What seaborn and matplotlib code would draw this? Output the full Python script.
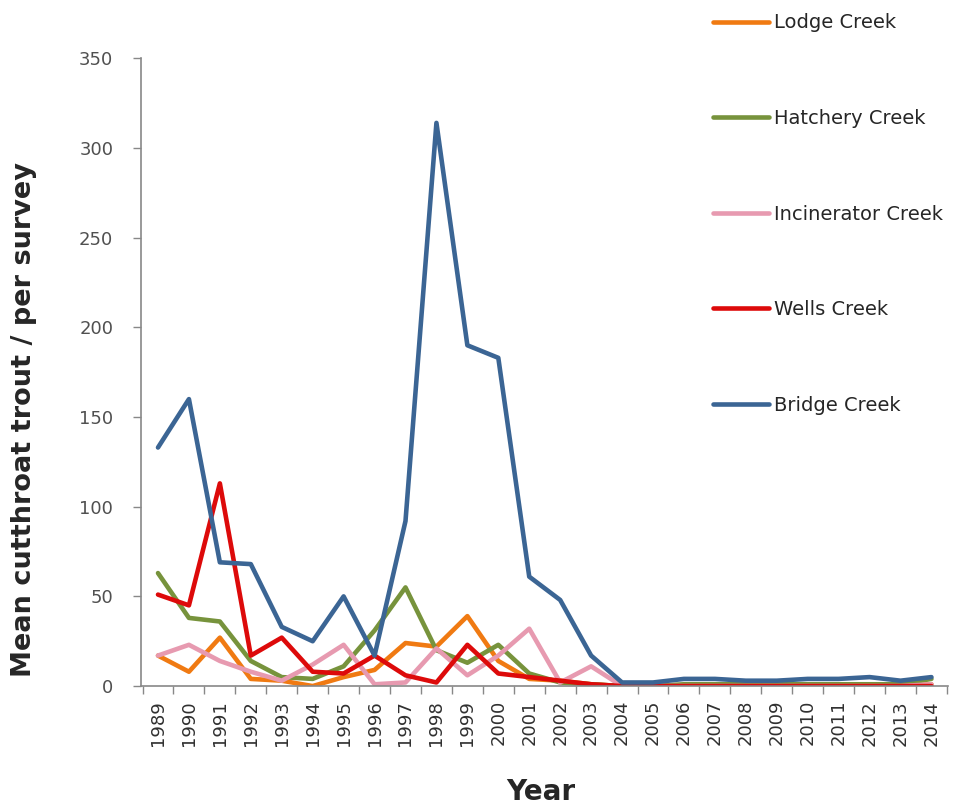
import matplotlib
matplotlib.use("Agg")
import matplotlib.pyplot as plt
import seaborn as sns
import pandas as pd
import numpy as np

years = list(range(1989, 2015))
lodge = [17, 8, 27, 4, 3, 0, 5, 9, 24, 22, 39, 14, 4, 3, 1, 0, 0, 0, 0, 0, 0, 0, 0, 0, 0, 1]
hatchery = [63, 38, 36, 14, 5, 4, 11, 31, 55, 20, 13, 23, 7, 2, 1, 0, 0, 1, 1, 1, 1, 1, 1, 1, 1, 4]
incinerator = [17, 23, 14, 8, 3, 12, 23, 1, 2, 21, 6, 17, 32, 2, 11, 0, 0, 0, 0, 0, 0, 0, 0, 0, 0, 1]
wells = [51, 45, 113, 17, 27, 8, 7, 17, 6, 2, 23, 7, 5, 3, 1, 0, 0, 0, 0, 0, 0, 0, 0, 0, 0, 0]
bridge = [133, 160, 69, 68, 33, 25, 50, 17, 92, 314, 190, 183, 61, 48, 17, 2, 2, 4, 4, 3, 3, 4, 4, 5, 3, 5]

series_names = ["Lodge Creek", "Hatchery Creek", "Incinerator Creek", "Wells Creek", "Bridge Creek"]
series_values = [lodge, hatchery, incinerator, wells, bridge]
colors = ["#F07A12", "#77933C", "#E79AB0", "#DD0A0A", "#3B6594"]

rows = []
for name, vals in zip(series_names, series_values):
    for y, v in zip(years, vals):
        rows.append({"Year": y, "Value": v, "Creek": name})
df = pd.DataFrame(rows)

sns.set_style("white")
plt.rcParams["font.family"] = ["DejaVu Sans"]

fig = plt.figure(figsize=(9.59, 8.10), dpi=100)
ax = fig.add_axes([0.147, 0.153, 0.842, 0.775])

sns.lineplot(data=df, x="Year", y="Value", hue="Creek", hue_order=series_names,
             palette=dict(zip(series_names, colors)), linewidth=3.3, ax=ax,
             legend=True)

ax.set_xlim(years[0] - 0.55, years[-1] + 0.55)
ax.set_ylim(0, 350)
ax.set_yticks(np.arange(0, 351, 50))
ax.set_xticks([y - 0.5 for y in years] + [years[-1] + 0.5])
ax.set_xticklabels([])
ax.set_xticks(years, minor=True)
ax.set_xticklabels([str(y) for y in years], minor=True, rotation=90, fontsize=13, color="#303030")
ax.tick_params(axis="x", which="major", length=6, width=1, color="#888888", direction="out", bottom=True)
ax.tick_params(axis="x", which="minor", length=0, pad=10)
ax.tick_params(axis="y", length=6, width=1, color="#888888", direction="out", left=True,
               labelsize=13, labelcolor="#505050", pad=14)

for s in ["top", "right"]:
    ax.spines[s].set_visible(False)
for s in ["left", "bottom"]:
    ax.spines[s].set_color("#888888")
    ax.spines[s].set_linewidth(1.2)

ax.set_ylabel("Mean cutthroat trout / per survey", fontsize=19.5, fontweight="bold")
ax.yaxis.set_label_coords(-0.129, 0.424)
ax.set_xlabel("Year", fontsize=20, fontweight="bold")
ax.xaxis.set_label_coords(0.495, -0.146)

handles, labels = ax.get_legend_handles_labels()
leg = ax.legend(handles, labels, loc="upper left", bbox_to_anchor=(0.725, 1.005),
                bbox_transform=fig.transFigure, frameon=False, fontsize=14,
                labelspacing=3.94, handlelength=2.9, handletextpad=0.25)
for line in leg.get_lines():
    line.set_linewidth(3.3)

fig.savefig("out.png", dpi=100, facecolor="white")
